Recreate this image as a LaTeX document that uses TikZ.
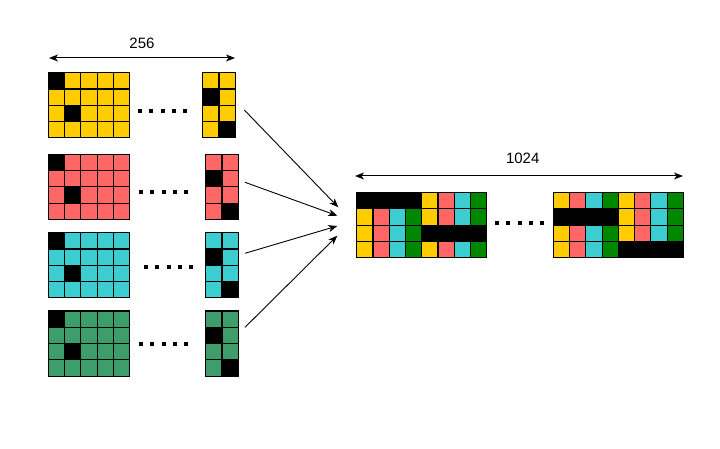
\documentclass[tikz,border=0pt]{standalone}
\usepackage{fontspec}
\setmainfont{Liberation Sans}
\usetikzlibrary{arrows.meta}
\definecolor{cY}{RGB}{255,204,0}
\definecolor{cR}{RGB}{255,102,102}
\definecolor{cC}{RGB}{60,205,208}
\definecolor{cG}{RGB}{61,158,108}
\definecolor{cG2}{RGB}{0,135,0}
\newcommand\cs{16.3}
\newcommand\gridcells[5]{%
  \foreach \i in {1,...,#3}{\foreach \j in {1,...,#4}{%
    \draw[cellst,fill=#5] ({#1+(\i-1)*\cs},{#2+(\j-1)*\cs}) rectangle ++(\cs,\cs);}}}
\newcommand\blackcell[4]{%
  \draw[cellst,fill=black] ({#1+#3*\cs},{#2+#4*\cs}) rectangle ++(\cs,\cs);}
\newcommand\blackband[4]{%
  \draw[cellst,fill=black] ({#1+#3*\cs},{#2+#4*\cs}) rectangle ++({4*\cs},\cs);}
\newcommand\dotrow[3]{%
  \foreach \k in {0,...,4}{\fill ({#1+\k*11.25-2},{#3-2}) rectangle ++(4,4);}}
\newcommand\colorrow[3]{% x0 y0 row
  \foreach \c [count=\n from 0] in {cY,cR,cC,cG2,cY,cR,cC,cG2}{%
    \draw[cellst,fill=\c] ({#1+\n*\cs},{#2+#3*\cs}) rectangle ++(\cs,\cs);}}
\begin{document}
\begin{tikzpicture}[x=1pt,y=-1pt,
  cellst/.style={draw=black,line width=1.1pt},
  conn/.style={line width=0.9pt,-{Stealth[length=9pt,width=7pt,inset=2.5pt]}},
  dim/.style={line width=1pt,{Stealth[length=9pt,width=7pt,inset=2.5pt]}-{Stealth[length=9pt,width=7pt,inset=2.5pt]}},
  lbl/.style={font=\fontsize{15}{18}\selectfont,inner sep=0pt}]
\useasboundingbox (0,0) rectangle (720,449);
% left big grids
\gridcells{48.3}{72.7}{5}{4}{cY}
\blackcell{48.3}{72.7}{0}{0}\blackcell{48.3}{72.7}{1}{2}
\gridcells{48.3}{154.3}{5}{4}{cR}
\blackcell{48.3}{154.3}{0}{0}\blackcell{48.3}{154.3}{1}{2}
\gridcells{48.3}{232.7}{5}{4}{cC}
\blackcell{48.3}{232.7}{0}{0}\blackcell{48.3}{232.7}{1}{2}
\gridcells{48.3}{311}{5}{4}{cG}
\blackcell{48.3}{311}{0}{0}\blackcell{48.3}{311}{1}{2}
% small grids
\gridcells{202.7}{72.7}{2}{4}{cY}
\blackcell{202.7}{72.7}{0}{1}\blackcell{202.7}{72.7}{1}{3}
\gridcells{205.7}{154.3}{2}{4}{cR}
\blackcell{205.7}{154.3}{0}{1}\blackcell{205.7}{154.3}{1}{3}
\gridcells{205.7}{232.7}{2}{4}{cC}
\blackcell{205.7}{232.7}{0}{1}\blackcell{205.7}{232.7}{1}{3}
\gridcells{205.7}{311}{2}{4}{cG}
\blackcell{205.7}{311}{0}{1}\blackcell{205.7}{311}{1}{3}
% dots
\dotrow{140}{}{110.7}
\dotrow{141}{}{191.7}
\dotrow{146}{}{266.7}
\dotrow{141}{}{344.3}
% right blocks
\renewcommand\cs{16.25}
\foreach \r in {0,...,3}{\colorrow{356.7}{192.7}{\r}\colorrow{553.3}{192.7}{\r}}
\blackband{356.7}{192.7}{0}{0}
\blackband{356.7}{192.7}{4}{2}
\blackband{553.3}{192.7}{0}{1}
\blackband{553.3}{192.7}{4}{3}
\dotrow{497}{}{222.7}
% dimension lines
\coordinate (d1a) at (49,58); \coordinate (d1b) at (235,58);
\draw[dim] (d1a) -- (d1b);
\node[lbl] (l256) at (142,43.5) {256};
\coordinate (d2a) at (355,176); \coordinate (d2b) at (683,176);
\draw[dim] (d2a) -- (d2b);
\node[lbl] (l1024) at (522.7,158.5) {1024};
% connectors
\coordinate (s1) at (244.3,110); \coordinate (e1) at (338.3,207.3);
\coordinate (s2) at (245,182.3); \coordinate (e2) at (337.3,215.7);
\coordinate (s3) at (245,253.3); \coordinate (e3) at (337.3,226);
\coordinate (s4) at (245,327.3); \coordinate (e4) at (337.3,235.7);
\foreach \n in {1,...,4}{\draw[conn] (s\n) -- (e\n);}
\end{tikzpicture}
\end{document}
